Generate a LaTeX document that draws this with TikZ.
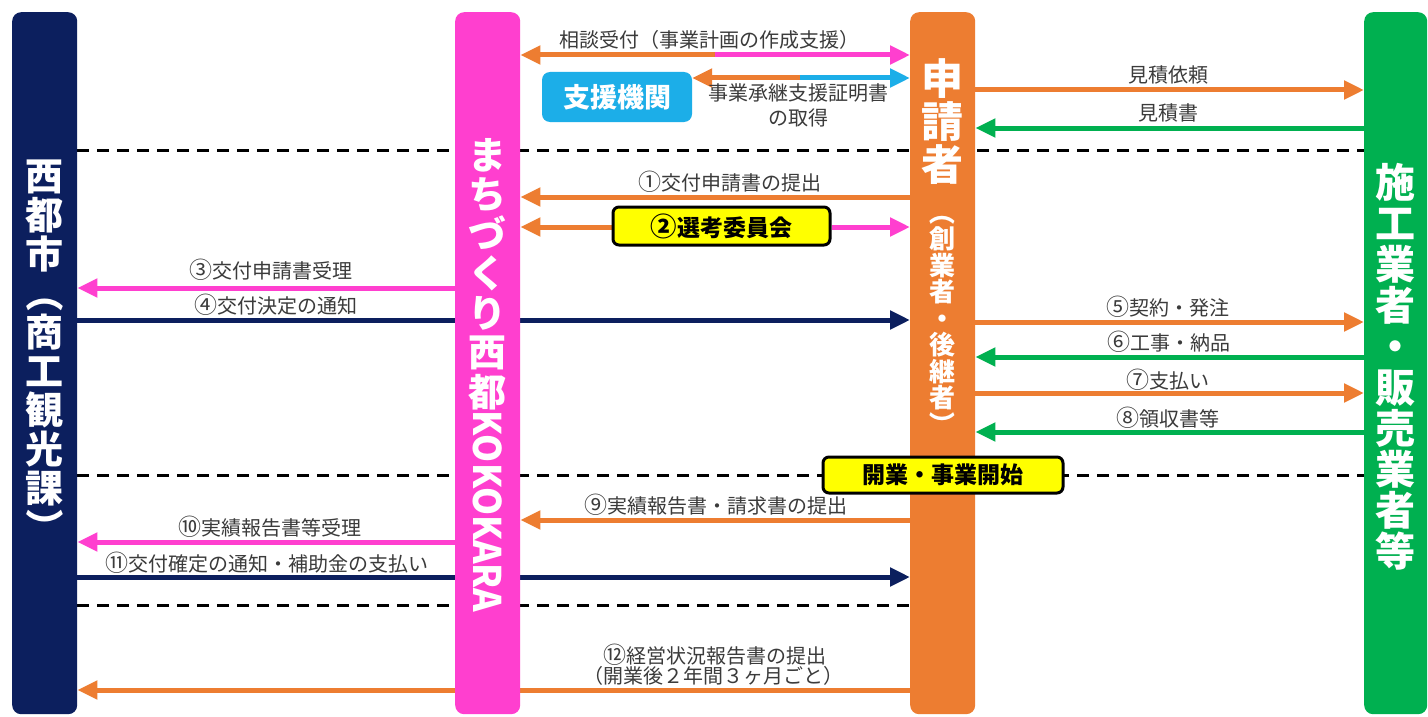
\documentclass[tikz,border=0pt]{standalone}
\usepackage{fontspec}
\setmainfont{Noto Sans CJK JP}
\usepackage{graphicx}
\usetikzlibrary{arrows.meta,backgrounds}
\definecolor{cNavy}{HTML}{0C1F5E}
\definecolor{cPink}{HTML}{FF3FCF}
\definecolor{cOrange}{HTML}{ED7D31}
\definecolor{cGreen}{HTML}{00B050}
\definecolor{cCyan}{HTML}{1CAEE8}
\definecolor{cYellow}{HTML}{FFFF00}
\definecolor{cText}{HTML}{3B3B3B}
\newcommand{\vopen}{\rotatebox[origin=c]{-90}{（}}
\newcommand{\vclose}{\rotatebox[origin=c]{-90}{）}}
\newcommand{\cnum}[1]{\scalebox{1.15}{#1}}
\begin{document}
\begin{tikzpicture}[x=1pt,y=-1pt,
  bar/.style={rounded corners=9pt, minimum width=65pt, minimum height=702pt, anchor=north west, inner sep=0pt},
  flow/.style={line width=5pt, -{Triangle[length=20pt,width=18pt]}},
  lbl/.style={font=\fontsize{20}{24}\selectfont, text=cText, anchor=base, inner sep=0pt},
  divider/.style={line width=3pt, dash pattern=on 12pt off 8pt},
  yelbox/.style={draw=black, line width=3pt, fill=cYellow, rounded corners=6pt, inner sep=0pt, font=\bfseries\fontsize{23}{24}\selectfont},
  vtext/.style={text=white, align=center, inner sep=0pt, anchor=north}
]
\useasboundingbox (0,0) rectangle (1428,717);
% bars
\node[bar, fill=cNavy] (city) at (12,12) {};
\node[bar, fill=cPink] (koko) at (455,12) {};
\node[bar, fill=cOrange] (app) at (910,12) {};
\node[bar, fill=cGreen, minimum width=63pt] (vendor) at (1364,12) {};
% bar texts
\node[vtext, font=\bfseries\fontsize{38}{39}\selectfont] (cityname) at (44.5,160)
  {西\\都\\市\\\vopen\\商\\工\\観\\光\\課\\\vclose};
\node[vtext, font=\bfseries\fontsize{38}{39.5}\selectfont] (kokoname) at (487.5,138)
  {ま\\ち\\づ\\く\\り\\西\\都\\\raisebox{40pt}{\rotatebox{-90}{\scalebox{0.94}[1]{KOKOKARA}}}};
\node[vtext, font=\bfseries\fontsize{42}{43}\selectfont] (appname) at (942.5,58)
  {申\\請\\者};
\node[vtext, font=\bfseries\fontsize{26}{26.5}\selectfont] (appsub) at (942.5,199)
  {\vopen\\創\\業\\者\\・\\後\\継\\者\\\vclose};
\node[vtext, font=\bfseries\fontsize{40}{41}\selectfont] (vendorname) at (1395,163)
  {施\\工\\業\\者\\・\\販\\売\\業\\者\\等};
% boxes
\node[fill=cCyan, rounded corners=8pt, minimum width=150pt, minimum height=50pt, inner sep=0pt,
  text=white, font=\bfseries\fontsize{27}{28}\selectfont] (shien) at (617,97) {支援機関};
\node[yelbox, minimum width=217pt, minimum height=38pt] (sel) at (721.5,226) {\cnum{②}選考委員会};
\node[yelbox, minimum width=240pt, minimum height=36pt] (open) at (943,475) {開業・事業開始};
% rows
\coordinate (rC) at (0,55);
\coordinate (rS) at (0,78);
\coordinate (rQ1) at (0,90);
\coordinate (rQ2) at (0,128);
\coordinate (r1) at (0,197);
\coordinate (r2) at (0,227);
\coordinate (r3) at (0,288);
\coordinate (r4) at (0,320);
\coordinate (r5) at (0,322);
\coordinate (r6) at (0,357);
\coordinate (r7) at (0,393);
\coordinate (r8) at (0,432);
\coordinate (r9) at (0,520);
\coordinate (r10) at (0,542);
\coordinate (r11) at (0,577);
\coordinate (r12) at (0,690);
\coordinate (d1) at (0,150);
\coordinate (d2) at (0,475);
\coordinate (d3) at (0,605);
\coordinate (splitC) at (715,55);
\coordinate (splitS) at (800,78);
\begin{scope}[on background layer]
\fill[white] (0,0) rectangle (1428,717);
\draw[divider] (city.east |- d1) -- (vendor.west |- d1);
\draw[divider] (city.east |- d2) -- (vendor.west |- d2);
\draw[divider] (city.east |- d3) -- (app.west |- d3);
\draw[flow, cOrange] (splitC) -- (koko.east |- rC);
\draw[flow, cPink] (splitC) -- (app.west |- rC);
\draw[flow, cOrange] (splitS) -- (shien.east |- rS);
\draw[flow, cCyan] (splitS) -- (app.west |- rS);
\draw[flow, cOrange] (app.east |- rQ1) -- (vendor.west |- rQ1);
\draw[flow, cGreen] (vendor.west |- rQ2) -- (app.east |- rQ2);
\draw[flow, cOrange] (app.west |- r1) -- (koko.east |- r1);
\draw[flow, cOrange] (sel.west |- r2) -- (koko.east |- r2);
\draw[flow, cPink] (sel.east |- r2) -- (app.west |- r2);
\draw[flow, cPink] (koko.west |- r3) -- (city.east |- r3);
\draw[flow, cNavy] (city.east |- r4) -- (app.west |- r4);
\draw[flow, cOrange] (app.east |- r5) -- (vendor.west |- r5);
\draw[flow, cGreen] (vendor.west |- r6) -- (app.east |- r6);
\draw[flow, cOrange] (app.east |- r7) -- (vendor.west |- r7);
\draw[flow, cGreen] (vendor.west |- r8) -- (app.east |- r8);
\draw[flow, cOrange] (app.west |- r9) -- (koko.east |- r9);
\draw[flow, cPink] (koko.west |- r10) -- (city.east |- r10);
\draw[flow, cNavy] (city.east |- r11) -- (app.west |- r11);
\draw[flow, cOrange] (app.west |- r12) -- (city.east |- r12);
\end{scope}
% labels
\node[lbl] (tConsult) at (709,48) {相談受付（事業計画の作成支援）};
\node[lbl] (tCert1) at (798,101) {事業承継支援証明書};
\node[lbl] (tCert2) at (798,125) {の取得};
\node[lbl] (tQuoteReq) at (1168,82) {見積依頼};
\node[lbl] (tQuote) at (1168,121) {見積書};
\node[lbl] (t1) at (730,190) {\cnum{①}交付申請書の提出};
\node[lbl] (t3) at (271,278) {\cnum{③}交付申請書受理};
\node[lbl] (t4) at (276,313) {\cnum{④}交付決定の通知};
\node[lbl] (t5) at (1168,315) {\cnum{⑤}契約・発注};
\node[lbl] (t6) at (1169,350) {\cnum{⑥}工事・納品};
\node[lbl] (t7) at (1168,388) {\cnum{⑦}支払い};
\node[lbl] (t8) at (1168,426) {\cnum{⑧}領収書等};
\node[lbl] (t9) at (716,513) {\cnum{⑨}実績報告書・請求書の提出};
\node[lbl] (t10) at (270,535) {\cnum{⑩}実績報告書等受理};
\node[lbl] (t11) at (267,571) {\cnum{⑪}交付確定の通知・補助金の支払い};
\node[lbl] (t12a) at (715,663) {\cnum{⑫}経営状況報告書の提出};
\node[lbl] (t12b) at (713,683) {（開業後２年間３ヶ月ごと）};
\end{tikzpicture}
\end{document}
